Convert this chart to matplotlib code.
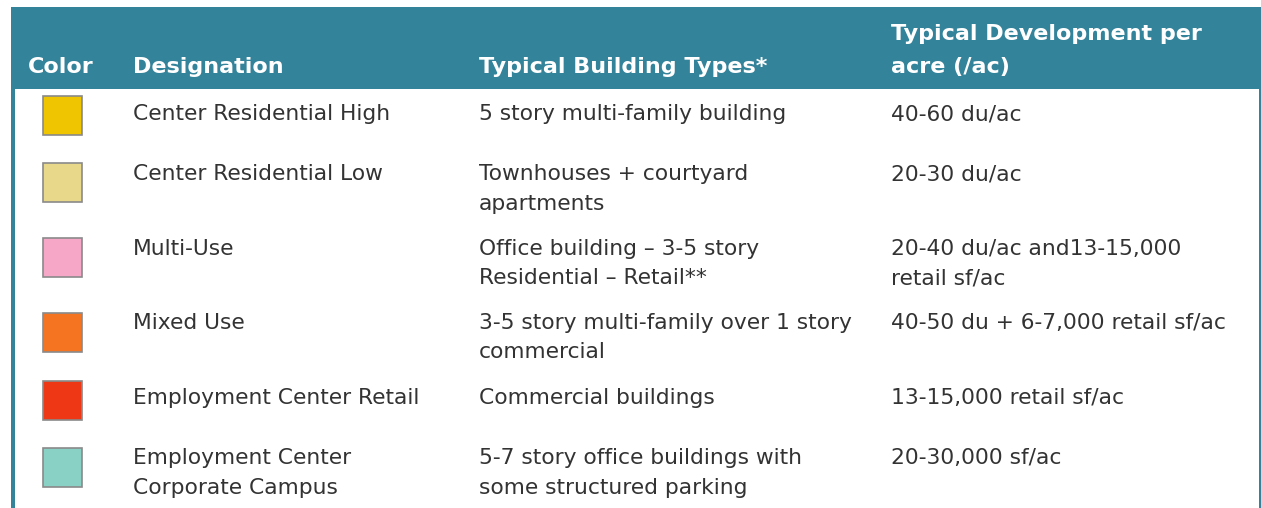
import matplotlib
matplotlib.use("Agg")
import matplotlib.pyplot as plt
from matplotlib.patches import Rectangle

# ---- data ----
headers = ["Color", "Designation", "Typical Building Types*", "Typical Development per\nacre (/ac)"]
designations = [
    "Center Residential High",
    "Center Residential Low",
    "Multi-Use",
    "Mixed Use",
    "Employment Center Retail",
    "Employment Center\nCorporate Campus",
]
building_types = [
    "5 story multi-family building",
    "Townhouses + courtyard\napartments",
    "Office building \u2013 3-5 story\nResidential \u2013 Retail**",
    "3-5 story multi-family over 1 story\ncommercial",
    "Commercial buildings",
    "5-7 story office buildings with\nsome structured parking",
]
development = [
    "40-60 du/ac",
    "20-30 du/ac",
    "20-40 du/ac and13-15,000\nretail sf/ac",
    "40-50 du + 6-7,000 retail sf/ac",
    "13-15,000 retail sf/ac",
    "20-30,000 sf/ac",
]
swatch_colors = ["#EFC400", "#E8D88A", "#F6A7C7", "#F47421", "#EE3714", "#8AD1C5"]

# ---- layout (pixel space) ----
W, H = 1261, 508
TEAL = "#33839B"
TXT = "#333333"
row_baselines = [120, 180, 255, 329, 404, 464]
swatch_tops = [96, 163, 238, 313, 381, 448]
col_x = [28, 133, 479, 891]
line_gap = 29.5
fs = 15.7

fig = plt.figure(figsize=(W / 100, H / 100), dpi=100)
ax = fig.add_axes([0, 0, 1, 1])
ax.set_xlim(0, W)
ax.set_ylim(H, 0)
ax.axis("off")

# header band and borders
ax.add_patch(Rectangle((11, 7), W - 11, 82, facecolor=TEAL, edgecolor="none"))
ax.add_patch(Rectangle((11, 89), 4, H - 89, facecolor=TEAL, edgecolor="none"))
ax.add_patch(Rectangle((1259, 89), 2, H - 89, facecolor=TEAL, edgecolor="none"))

# headers
hdr_font = dict(color="white", fontsize=16, fontweight="bold", family="DejaVu Sans")
ax.text(col_x[0], 73, headers[0], va="baseline", ha="left", **hdr_font)
ax.text(col_x[1], 73, headers[1], va="baseline", ha="left", **hdr_font)
ax.text(col_x[2], 73, headers[2], va="baseline", ha="left", **hdr_font)
for i, line in enumerate(headers[3].split("\n")):
    ax.text(col_x[3], 40 + i * 33, line, va="baseline", ha="left", **hdr_font)

# rows
for r in range(len(designations)):
    ax.add_patch(Rectangle((43, swatch_tops[r]), 39, 39, facecolor=swatch_colors[r],
                           edgecolor="#8a8a8a", linewidth=1.2))
    for c, col in enumerate([designations, building_types, development]):
        for i, line in enumerate(col[r].split("\n")):
            ax.text(col_x[c + 1], row_baselines[r] + i * line_gap, line, va="baseline",
                    ha="left", color=TXT, fontsize=fs, family="DejaVu Sans")

fig.savefig("out.png", dpi=100)
